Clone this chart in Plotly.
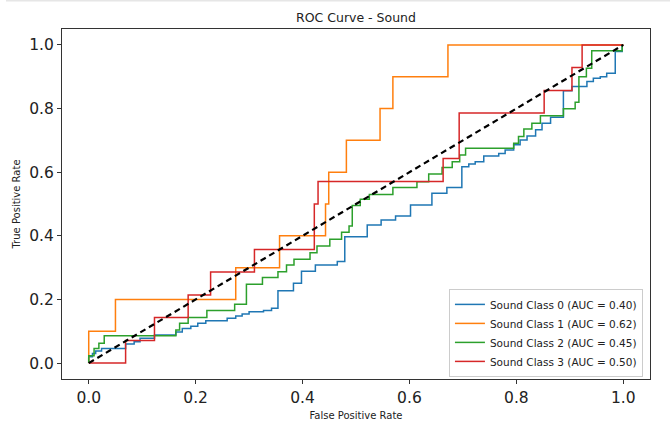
import plotly.graph_objects as go

# ---- data ----
labels = ["Sound Class 0 (AUC = 0.40)", "Sound Class 1 (AUC = 0.62)",
          "Sound Class 2 (AUC = 0.45)", "Sound Class 3 (AUC = 0.50)"]
colors = ["#1f77b4", "#ff7f0e", "#2ca02c", "#d62728"]

fpr0 = [0, 0, 0.007, 0.013, 0.024, 0.069, 0.085, 0.096, 0.123, 0.163, 0.175, 0.191, 0.204,
        0.219, 0.259, 0.275, 0.287, 0.300, 0.327, 0.342, 0.354, 0.383, 0.398, 0.424, 0.465,
        0.479, 0.521, 0.547, 0.574, 0.602, 0.642, 0.670, 0.698, 0.711, 0.723, 0.739, 0.767,
        0.779, 0.795, 0.807, 0.820, 0.836, 0.848, 0.864, 0.888, 0.904, 0.932, 0.944, 0.957,
        0.969, 0.985, 0.998, 1.0]
tpr0 = [0, 0.02, 0.03, 0.038, 0.046, 0.06, 0.067, 0.078, 0.088, 0.098, 0.109, 0.116, 0.125,
        0.133, 0.141, 0.148, 0.154, 0.161, 0.165, 0.172, 0.227, 0.251, 0.289, 0.308, 0.319,
        0.397, 0.434, 0.450, 0.462, 0.497, 0.534, 0.552, 0.617, 0.626, 0.633, 0.651, 0.659,
        0.670, 0.686, 0.701, 0.714, 0.733, 0.754, 0.773, 0.856, 0.869, 0.885, 0.895, 0.900,
        0.911, 0.979, 1.0, 1.0]

fpr1 = [0, 0, 0.05, 0.275, 0.357, 0.443, 0.449, 0.482, 0.545, 0.569, 0.672, 1.0]
tpr1 = [0, 0.1, 0.2, 0.3, 0.4, 0.5, 0.6, 0.7, 0.8, 0.9, 1.0, 1.0]

fpr2 = [0, 0, 0.01, 0.019, 0.029, 0.163, 0.170, 0.186, 0.221, 0.273, 0.295, 0.325, 0.354,
        0.370, 0.384, 0.414, 0.427, 0.451, 0.473, 0.487, 0.493, 0.508, 0.525, 0.569, 0.614,
        0.636, 0.661, 0.680, 0.694, 0.705, 0.795, 0.804, 0.814, 0.829, 0.845, 0.888, 0.910,
        0.917, 0.931, 0.941, 0.998, 1.0]
tpr2 = [0, 0.023, 0.046, 0.062, 0.086, 0.104, 0.125, 0.143, 0.165, 0.185, 0.248, 0.269, 0.287,
        0.308, 0.326, 0.347, 0.368, 0.389, 0.411, 0.431, 0.495, 0.515, 0.530, 0.552, 0.570,
        0.594, 0.615, 0.633, 0.654, 0.675, 0.691, 0.712, 0.736, 0.754, 0.777, 0.799, 0.820,
        0.900, 0.927, 0.982, 1.0, 1.0]

fpr3 = [0, 0.069, 0.123, 0.186, 0.228, 0.310, 0.422, 0.429, 0.663, 0.693, 0.852, 0.904, 0.923, 1.0]
tpr3 = [0, 0.071, 0.143, 0.214, 0.286, 0.357, 0.5, 0.571, 0.643, 0.786, 0.857, 0.929, 1.0, 1.0]

diag = [0, 1]
ticks = [0.0, 0.2, 0.4, 0.6, 0.8, 1.0]
tick_text = ["0.0", "0.2", "0.4", "0.6", "0.8", "1.0"]

series = [(fpr0, tpr0), (fpr1, tpr1), (fpr2, tpr2), (fpr3, tpr3)]

fig = go.Figure()
for (fx, ty), name, col in zip(series, labels, colors):
    fig.add_trace(go.Scatter(x=fx, y=ty, mode="lines", name=name,
                             line=dict(color=col, width=1.5, shape="hv")))
fig.add_trace(go.Scatter(x=diag, y=diag, mode="lines", showlegend=False,
                         line=dict(color="black", width=2.2, dash="6px,4px")))

font = "DejaVu Sans"
axis_common = dict(range=[-0.05, 1.05], tickvals=ticks, ticktext=tick_text,
                   showgrid=False, zeroline=False, showline=True, mirror=True,
                   linecolor="#333333", linewidth=1, ticks="outside", ticklen=4,
                   tickwidth=1, tickcolor="#333333", automargin=False,
                   tickfont=dict(family=font, size=15.5, color="#222222"))

fig.update_layout(
    width=670, height=421,
    margin=dict(l=62, r=20, t=29, b=42),
    paper_bgcolor="white", plot_bgcolor="white",
    title=dict(text="ROC Curve - Sound", x=0.5, xref="paper", xanchor="center",
               y=1 - 18 / 421, yanchor="middle",
               font=dict(family=font, size=12.5, color="#222222")),
    xaxis=dict(**axis_common, title=dict(text="False Positive Rate", standoff=6,
                                         font=dict(family=font, size=10, color="#222222"))),
    yaxis=dict(**axis_common, title=dict(text="True Positive Rate", standoff=6,
                                         font=dict(family=font, size=10, color="#222222"))),
    legend=dict(x=0.988, y=0.006, xanchor="right", yanchor="bottom",
                bgcolor="rgba(255,255,255,0.9)", bordercolor="#cccccc", borderwidth=1,
                font=dict(family=font, size=10.5, color="#222222"), itemwidth=30,
                tracegroupgap=0),
    showlegend=True,
)

fig.add_shape(type="line", xref="paper", yref="paper",
              x0=(6 - 62) / 588, x1=(670 - 62) / 588,
              y0=1 + 28.5 / 350, y1=1 + 28.5 / 350,
              line=dict(color="#e6e6e6", width=2))

fig.write_html("out.html", config={"displayModeBar": False},
               post_script="document.body.style.margin='0';document.body.style.overflow='hidden';")
